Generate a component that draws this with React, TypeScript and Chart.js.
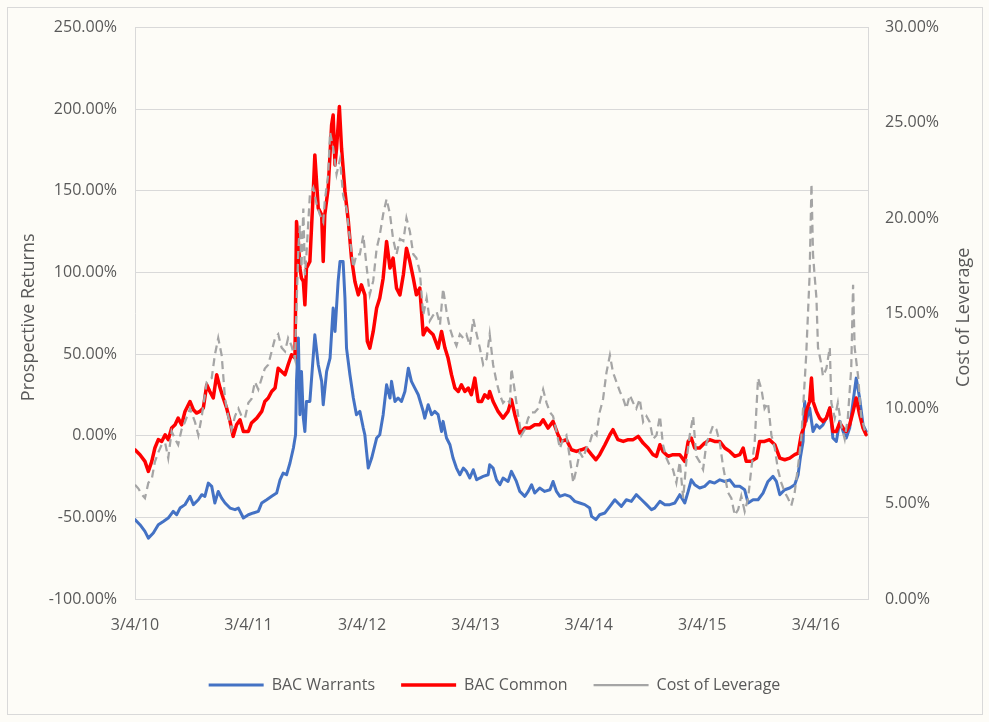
import { useEffect, useRef } from 'react';
import { Chart, registerables } from 'chart.js';

Chart.register(...registerables);

const xTickDays = [0, 365, 731, 1096, 1461, 1826, 2192];
const xTickLabels = ['3/4/10', '3/4/11', '3/4/12', '3/4/13', '3/4/14', '3/4/15', '3/4/16'];
const xMaxDay = 2360;

const seriesNames = ['BAC Warrants', 'BAC Common', 'Cost of Leverage'];
const leftAxisTitle = 'Prospective Returns';
const rightAxisTitle = 'Cost of Leverage';

// days since 3/4/10
const warrantsDays = [0,16,32,43,59,75,91,107,123,134,145,161,177,188,204,215,225,236,247,257,268,279,290,306,322,333,349,365,381,397,408,424,440,456,467,477,488,499,510,517,520,526,531,536,542,547,552,563,579,590,601,606,617,628,638,644,654,660,670,676,681,692,703,713,724,735,740,751,762,778,788,799,810,821,826,837,847,858,869,880,890,901,912,928,933,944,955,965,976,987,992,1003,1014,1024,1035,1046,1057,1067,1078,1089,1100,1110,1121,1137,1142,1153,1164,1175,1185,1201,1212,1228,1239,1255,1266,1277,1287,1303,1319,1336,1346,1357,1368,1384,1400,1416,1432,1448,1464,1470,1484,1496,1513,1529,1545,1555,1566,1582,1598,1614,1631,1647,1663,1673,1690,1706,1722,1738,1754,1770,1781,1791,1802,1818,1834,1850,1866,1883,1899,1915,1931,1947,1963,1974,1990,2006,2022,2038,2054,2065,2076,2092,2108,2124,2135,2142,2151,2156,2161,2172,2183,2194,2204,2215,2226,2237,2247,2258,2269,2280,2290,2301,2312,2322,2333,2344,2354];
const warrantsReturns = [-51.4,-54.5,-58.6,-62.7,-59.6,-54.5,-52.5,-50.4,-46.3,-48.4,-44.3,-42.2,-37.1,-42.2,-39.2,-36.1,-37.1,-29.0,-31.0,-41.2,-34.1,-38.2,-41.2,-44.3,-45.3,-44.3,-50.4,-48.4,-47.3,-46.3,-41.2,-39.2,-37.1,-35.1,-27.0,-22.9,-23.9,-16.7,-7.5,0.6,33.3,59.8,12.9,39.4,10.8,2.6,21.0,21.0,61.8,43.5,33.3,19.0,39.4,47.6,78.2,63.9,94.5,106.7,106.7,84.3,53.7,37.4,23.1,12.9,14.9,4.7,0.6,-19.8,-13.7,-1.4,0.6,12.9,31.2,23.1,33.3,21.0,23.1,21.0,27.1,41.4,33.3,29.2,25.1,14.9,10.8,19.0,12.9,14.9,12.9,2.6,8.8,-1.4,-5.5,-13.7,-19.8,-23.9,-19.8,-21.8,-25.9,-20.8,-27.0,-25.9,-24.9,-23.9,-17.8,-19.8,-27.0,-30.0,-25.9,-28.0,-21.8,-28.0,-34.1,-37.1,-34.1,-30.0,-35.1,-32.0,-34.1,-33.1,-28.0,-34.1,-37.1,-36.1,-37.1,-40.2,-41.2,-42.2,-44.3,-49.4,-51.4,-48.4,-47.3,-43.3,-39.2,-41.2,-43.3,-39.2,-40.2,-36.1,-39.2,-42.2,-45.3,-44.3,-40.2,-42.2,-42.2,-41.2,-36.1,-41.2,-34.1,-27.0,-30.0,-32.0,-31.0,-28.0,-29.0,-27.0,-28.0,-27.0,-31.0,-31.0,-33.1,-41.2,-39.2,-39.2,-35.1,-28.0,-24.9,-28.0,-36.1,-33.1,-32.0,-30.0,-23.9,-13.7,-3.5,21.0,8.8,17.0,2.6,6.7,4.7,6.7,10.8,17.0,-1.4,-3.5,8.8,2.6,-1.4,4.7,21.0,35.3,23.1,6.7,2.6];

const commonDays = [0,16,32,43,54,64,75,86,97,107,118,129,139,150,161,177,188,198,209,220,231,241,252,263,274,284,295,306,316,327,338,349,365,375,392,408,418,429,440,451,461,472,483,493,504,515,520,526,531,536,542,547,552,563,574,579,590,601,606,611,622,633,638,644,649,658,665,676,687,697,708,719,729,740,748,756,767,778,788,799,810,821,831,842,853,864,874,885,896,906,917,928,939,949,960,976,987,998,1008,1019,1030,1041,1051,1062,1073,1083,1094,1105,1116,1126,1137,1142,1153,1169,1185,1201,1212,1223,1239,1255,1271,1287,1303,1314,1330,1346,1362,1373,1389,1405,1421,1437,1453,1470,1484,1496,1513,1529,1539,1555,1572,1588,1604,1620,1636,1652,1668,1679,1690,1700,1716,1732,1754,1770,1781,1791,1802,1818,1834,1850,1866,1883,1899,1915,1931,1947,1958,1968,1984,2001,2011,2027,2043,2060,2076,2092,2108,2124,2135,2145,2156,2161,2172,2178,2183,2194,2204,2215,2226,2237,2247,2258,2269,2280,2290,2301,2312,2322,2333,2344,2354];
const commonReturns = [-8.6,-11.6,-15.7,-21.8,-15.7,-7.5,-2.4,-3.5,0.6,-2.4,4.7,6.7,10.8,6.7,14.9,21.0,15.9,13.9,14.9,17.0,31.2,27.1,23.1,37.4,29.2,23.1,17.0,8.8,-0.4,6.7,9.8,2.6,2.6,7.8,10.8,14.9,21.0,23.1,27.1,29.2,41.4,39.4,37.4,43.5,49.6,47.6,131.2,119.0,102.7,96.5,94.5,80.2,102.7,106.7,149.6,172.0,139.4,135.3,106.7,135.3,151.6,190.4,196.5,165.9,176.1,201.6,176.1,149.6,131.2,108.8,94.5,86.3,92.4,86.3,57.8,53.7,63.9,78.2,84.3,96.5,119.0,102.7,108.8,90.4,86.3,98.6,114.9,106.7,96.5,86.3,90.4,61.8,65.9,63.9,61.8,53.7,63.9,53.7,47.6,37.4,29.2,27.1,31.2,27.1,29.2,25.1,35.3,21.0,21.0,25.1,23.1,27.1,21.0,14.9,10.8,14.9,22.1,12.9,1.6,4.7,4.7,6.7,6.7,9.8,4.7,8.8,0.6,-3.5,-2.4,-8.6,-9.6,-8.6,-7.5,-11.6,-14.7,-11.6,-5.5,0.6,3.7,-2.4,-3.5,-2.4,-2.4,-0.4,-4.5,-7.5,-11.6,-12.6,-5.5,-9.6,-12.6,-11.6,-11.6,-15.7,-3.5,-1.4,-7.5,-7.5,-4.5,-2.4,-3.5,-3.5,-7.5,-9.6,-12.6,-11.6,-7.5,-15.7,-15.7,-13.7,-3.5,-3.5,-2.4,-5.5,-13.7,-14.7,-13.7,-11.6,-10.6,0.6,6.7,14.9,21.0,35.3,21.0,14.9,10.8,8.8,10.8,17.0,2.6,2.6,7.8,4.7,2.6,6.7,14.9,23.1,12.9,4.7,0.6];

const leverageDays = [0,11,21,32,43,54,64,75,86,97,107,118,129,139,150,161,177,193,204,215,231,247,257,268,279,290,300,311,322,333,343,354,365,375,386,397,408,418,429,440,451,461,472,483,493,504,515,520,526,531,536,542,547,552,563,574,585,595,606,611,622,628,638,649,660,670,681,692,703,713,724,735,746,756,767,778,788,799,810,821,831,842,853,864,874,885,896,906,917,928,939,949,960,971,982,992,1003,1014,1024,1035,1046,1057,1067,1078,1089,1100,1110,1121,1132,1142,1153,1164,1175,1185,1196,1207,1212,1223,1234,1244,1255,1266,1277,1287,1298,1314,1325,1336,1346,1357,1368,1378,1389,1400,1411,1421,1432,1443,1453,1464,1475,1486,1496,1507,1518,1529,1539,1550,1561,1572,1582,1593,1604,1614,1625,1636,1647,1657,1668,1679,1690,1700,1711,1722,1732,1743,1754,1765,1775,1786,1797,1807,1818,1829,1840,1850,1861,1872,1883,1893,1909,1920,1931,1942,1952,1963,1974,1984,1995,2006,2017,2027,2038,2049,2060,2070,2081,2092,2102,2113,2124,2135,2145,2156,2161,2172,2178,2183,2188,2194,2199,2210,2215,2226,2237,2242,2253,2263,2274,2285,2295,2306,2312,2317,2328,2338,2349,2360];
const leverageCost = [6.0,5.8,5.5,5.3,6.1,6.3,7.2,7.7,8.1,8.2,7.4,8.8,8.4,8.1,8.9,9.3,10.0,9.3,8.6,9.6,11.4,11.6,12.8,13.7,12.8,10.5,9.6,8.9,9.6,10.0,9.6,9.5,10.3,10.5,11.4,11.0,11.6,12.1,12.3,13.0,13.7,13.9,13.2,13.0,13.7,13.3,12.6,15.3,18.4,19.6,17.4,20.5,17.0,18.1,21.2,21.6,20.7,20.2,19.8,20.9,22.3,24.5,23.7,22.3,23.1,21.2,20.5,18.9,17.4,18.1,18.1,19.1,17.4,16.0,16.7,18.4,19.1,20.2,21.0,20.2,18.9,18.1,18.9,18.8,20.0,19.3,18.1,17.9,17.2,14.9,15.8,14.6,14.9,15.1,14.4,16.3,15.1,14.2,13.7,13.3,13.9,13.7,13.9,13.3,14.7,13.9,13.2,12.3,12.6,13.9,12.3,11.4,10.7,10.3,10.5,10.3,12.1,10.9,9.6,8.6,8.9,9.5,9.8,9.8,10.0,11.0,10.3,9.8,9.6,8.8,7.9,8.4,8.6,7.4,6.1,6.8,7.7,7.4,7.9,8.2,8.8,8.6,9.8,10.5,11.9,12.8,11.9,11.4,10.9,10.5,10.0,10.7,10.3,10.0,10.5,9.3,9.6,9.3,8.4,8.6,9.6,8.1,7.4,7.0,6.8,6.1,7.2,5.3,7.2,8.6,9.6,7.5,7.2,6.8,8.2,8.6,9.1,8.9,8.2,7.0,5.6,5.3,4.4,4.7,5.4,4.6,5.3,6.8,8.2,11.6,11.0,10.0,10.3,8.6,7.9,6.8,6.1,5.6,5.3,4.9,5.6,7.0,8.4,11.4,12.8,17.0,21.8,18.1,17.0,15.8,13.2,12.3,11.7,12.1,13.2,10.3,9.5,10.3,9.1,8.4,9.5,12.1,16.5,13.2,11.7,9.6,8.9,8.6];

const FONT = '"Open Sans", "DejaVu Sans", sans-serif';
const TEXT = '#595959';
const GRID = '#d9d9d9';
const BG = '#fdfcf7';

function pairs(days: number[], vals: number[]) {
  const n = Math.min(days.length, vals.length);
  const out: { x: number; y: number }[] = [];
  for (let i = 0; i < n; i++) out.push({ x: days[i], y: vals[i] });
  return out;
}

const pct = (v: any) => Number(v).toFixed(2) + '%';

export default function App() {
  const ref = useRef<HTMLCanvasElement | null>(null);

  useEffect(() => {
    let chart: Chart | null = null;
    let cancelled = false;

    const drawTitle = (ctx: CanvasRenderingContext2D, text: string, x: number, y: number) => {
      ctx.save();
      ctx.fillStyle = TEXT;
      ctx.font = '18px ' + FONT;
      ctx.textAlign = 'center';
      ctx.textBaseline = 'middle';
      ctx.translate(x, y);
      ctx.rotate(-Math.PI / 2);
      ctx.fillText(text, 0, 0);
      ctx.restore();
    };

    const backgroundPlugin = {
      id: 'bgFrame',
      beforeDraw(c: any) {
        const ctx = c.ctx;
        ctx.save();
        ctx.fillStyle = BG;
        ctx.fillRect(0, 0, c.width, c.height);
        ctx.strokeStyle = GRID;
        ctx.lineWidth = 1;
        ctx.strokeRect(7.5, 7.5, 975, 707);
        ctx.restore();
      },
      afterDraw(c: any) {
        const mid = (c.chartArea.top + c.chartArea.bottom) / 2;
        drawTitle(c.ctx, leftAxisTitle, 29, mid + 4);
        drawTitle(c.ctx, rightAxisTitle, 964, mid + 4);
      },
    };

    const build = () => {
      if (cancelled || !ref.current) return;
      chart = new Chart(ref.current, {
        type: 'line',
        data: {
          datasets: [
            {
              label: seriesNames[0],
              data: pairs(warrantsDays, warrantsReturns),
              borderColor: '#4472C4',
              backgroundColor: '#4472C4',
              borderWidth: 3,
              pointRadius: 0,
              yAxisID: 'y',
              order: 3,
              borderJoinStyle: 'round',
              borderCapStyle: 'round',
            },
            {
              label: seriesNames[1],
              data: pairs(commonDays, commonReturns),
              borderColor: '#FF0000',
              backgroundColor: '#FF0000',
              borderWidth: 3.5,
              pointRadius: 0,
              yAxisID: 'y',
              order: 2,
              borderJoinStyle: 'round',
              borderCapStyle: 'round',
            },
            {
              label: seriesNames[2],
              data: pairs(leverageDays, leverageCost),
              borderColor: '#A5A5A5',
              backgroundColor: '#A5A5A5',
              borderWidth: 2.25,
              borderDash: [8, 5],
              pointRadius: 0,
              yAxisID: 'y1',
              order: 1,
            },
          ],
        } as any,
        options: {
          animation: false,
          responsive: false,
          devicePixelRatio: 1,
          events: [],
          layout: { padding: { top: 26, left: 0, right: 0, bottom: 19 } },
          plugins: {
            tooltip: { enabled: false },
            legend: {
              position: 'bottom',
              labels: {
                usePointStyle: true,
                pointStyle: 'line',
                pointStyleWidth: 55,
                padding: 26,
                color: TEXT,
                font: { family: FONT, size: 16 },
                sort: (a: any, b: any) => a.datasetIndex - b.datasetIndex,
              },
            },
          },
          scales: {
            x: {
              type: 'linear',
              min: 0,
              max: xMaxDay,
              grid: { display: false, drawTicks: false },
              border: { display: true, color: GRID },
              ticks: {
                padding: 17,
                color: TEXT,
                font: { family: FONT, size: 16 },
                autoSkip: false,
                maxRotation: 0,
                callback: (v: any) => {
                  const i = xTickDays.indexOf(Number(v));
                  return i >= 0 ? xTickLabels[i] : '';
                },
              },
              afterBuildTicks: (s: any) => {
                s.ticks = xTickDays.map((v) => ({ value: v }));
              },
              afterFit: (s: any) => {
                s.height = 52;
              },
            },
            y: {
              position: 'left',
              min: -100,
              max: 250,
              grid: { color: GRID, drawTicks: false },
              border: { display: true, color: GRID },
              ticks: {
                stepSize: 50,
                padding: 18,
                color: TEXT,
                font: { family: FONT, size: 16 },
                callback: pct,
              },
              afterFit: (s: any) => {
                s.width = 135;
              },
            },
            y1: {
              position: 'right',
              min: 0,
              max: 30,
              grid: { display: false, drawTicks: false },
              border: { display: true, color: GRID },
              ticks: {
                stepSize: 5,
                padding: 17,
                color: TEXT,
                font: { family: FONT, size: 16 },
                callback: pct,
              },
              afterFit: (s: any) => {
                s.width = 121;
              },
            },
          },
        } as any,
        plugins: [backgroundPlugin],
      });
    };

    const fonts: any = (document as any).fonts;
    if (fonts && fonts.load) {
      Promise.all([fonts.load('16px "Open Sans"'), fonts.load('18px "Open Sans"')])
        .catch(() => undefined)
        .then(build);
    } else {
      build();
    }

    return () => {
      cancelled = true;
      if (chart) chart.destroy();
    };
  }, []);

  return (
    <div style={{ position: 'absolute', left: 0, top: 0, width: 989, height: 722, background: BG }}>
      <canvas ref={ref} width={989} height={722} style={{ display: 'block' }} />
    </div>
  );
}
